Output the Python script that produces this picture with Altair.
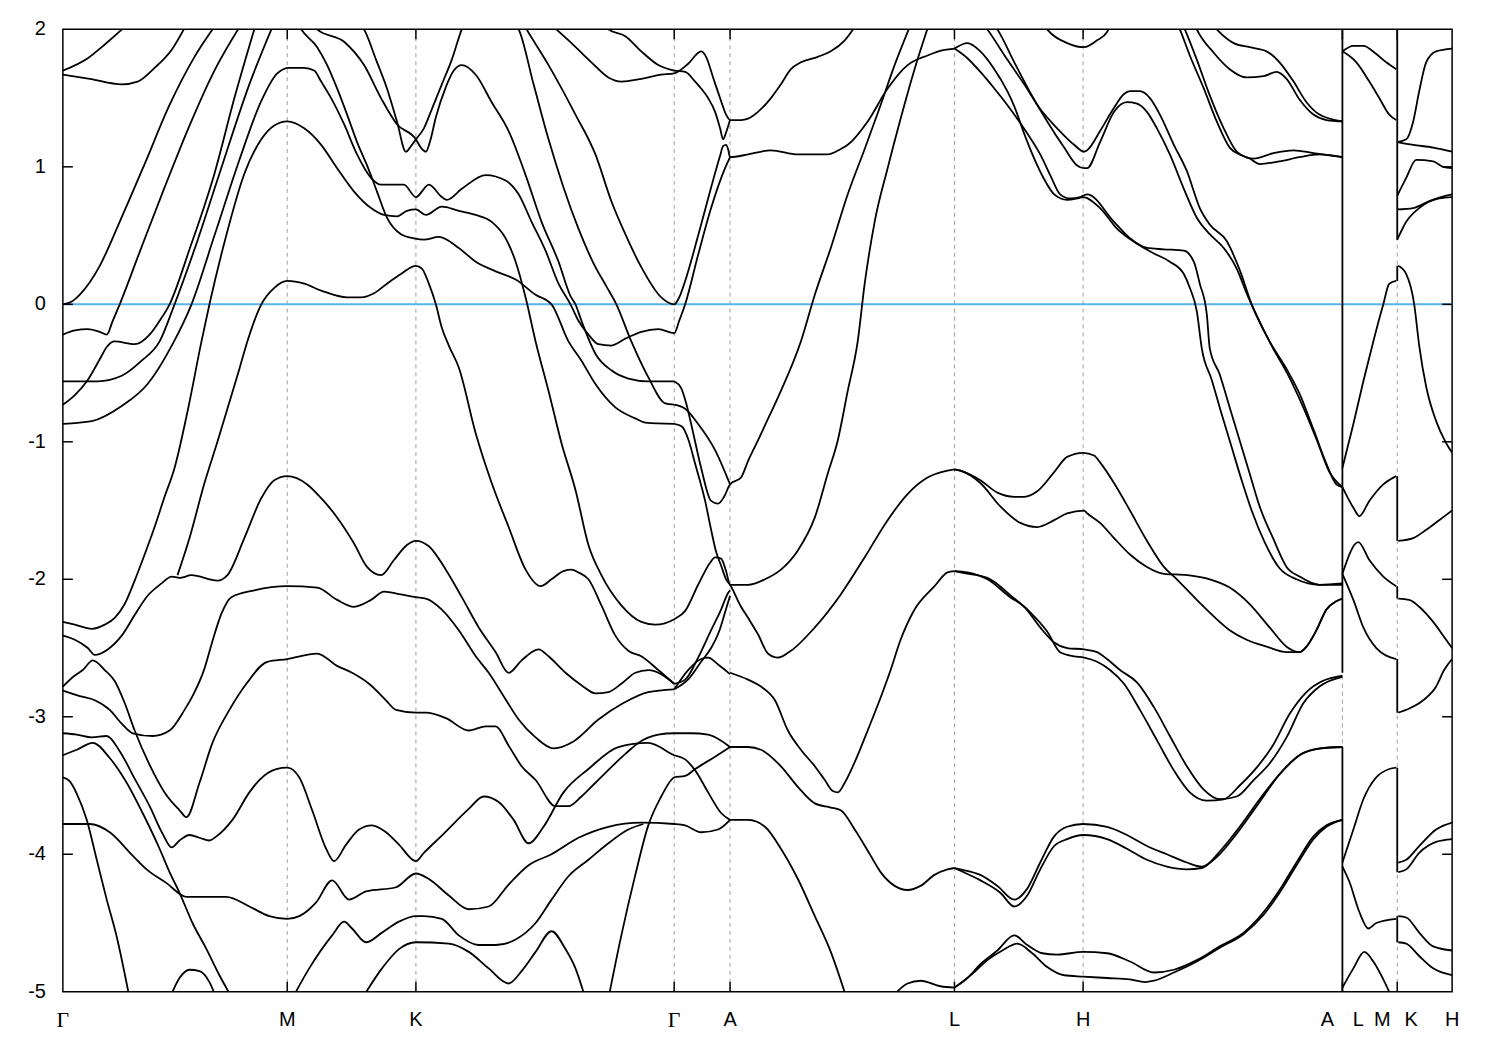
import altair as alt
import pandas as pd

# ---------------------------------------------------------------
# k-path coordinate (arbitrary path-length units, Gamma = 0) and
# band energies E (eV). Each list is one traced band piece: (k, E)
# ---------------------------------------------------------------
W, H = 1393, 965

GRID_K = [225, 354, 613, 669, 894, 1023, 1283, 1338]
LABEL_K = [225, 354, 669, 894, 1023, 1268, 1299, 1323, 1352, 1393]
LABEL_TEXT = ["M", "K", "A", "L", "H", "A", "L", "M", "K", "H"]
GAMMA_K = [0, 613]
Y_TICKS = [-5, -4, -3, -2, -1, 0, 1, 2]
Y_LABELS = ["-5", "-4", "-3", "-2", "-1", "0", "1", "2"]

# vertical jumps at the path discontinuities A|L and M|K
JUMP_K = [1283, 1283, 1338, 1338, 1338, 1338, 1338, 1338, 1338]
JUMP_LO = [-2.68, -5.1, 0.47, 0.17, -1.72, -2.14, -2.97, -4.13, -4.64]
JUMP_HI = [2.1, -3.22, 2.1, 0.28, -1.25, -2.05, -2.58, -3.37, -4.45]

# ---- Gamma-M-K-Gamma-A, upper part ----
p01 = [(0, 1.70), (25, 1.79), (42, 1.89), (67, 2.05)]
p02 = [(0, 1.67), (27, 1.64), (59, 1.60), (75, 1.62), (92, 1.72), (109, 1.85), (125, 2.05)]
p03 = [(0, 0.0), (9, 0.02), (17, 0.07), (27, 0.16), (37, 0.28), (57, 0.60), (82, 1.02), (107, 1.45),
       (132, 1.80), (155, 2.05)]
p04 = [(0, -0.22), (12, -0.19), (25, -0.18), (37, -0.20), (44, -0.22), (50, -0.12), (57, 0.0), (77, 0.38),
       (102, 0.85), (127, 1.30), (152, 1.70), (180, 2.05)]
p05 = [(0, -0.73), (12, -0.66), (25, -0.55), (37, -0.40), (44, -0.31), (52, -0.27), (72, -0.29), (87, -0.22),
       (97, -0.12), (107, 0.0), (127, 0.40), (152, 0.95), (172, 1.50), (194, 2.05)]
p06 = [(0, -0.56), (17, -0.56), (35, -0.56), (59, -0.52), (79, -0.41), (97, -0.27), (112, 0.0), (132, 0.40),
       (157, 0.95), (187, 1.60), (212, 2.05)]
p07 = [(0, -0.87), (29, -0.85), (59, -0.74), (85, -0.58), (110, -0.29), (129, 0.0), (152, 0.50), (177, 1.05),
       (199, 1.48), (215, 1.68), (227, 1.72), (242, 1.72), (252, 1.70), (259, 1.62), (269, 1.50), (282, 1.31),
       (295, 1.09), (309, 0.92), (319, 0.87), (332, 0.87), (342, 0.87), (354, 0.78), (367, 0.87), (380, 0.78),
       (385, 0.76), (400, 0.84), (424, 0.94), (444, 0.90), (457, 0.80), (470, 0.60), (484, 0.39), (497, 0.15),
       (509, 0.0), (517, -0.12), (527, -0.22), (537, -0.29), (550, -0.30), (564, -0.25), (580, -0.20),
       (597, -0.18), (613, -0.21), (618, -0.12), (624, 0.0), (637, 0.36), (650, 0.70), (664, 0.99), (669, 1.07)]
p08 = [(0, -2.31), (12, -2.33), (29, -2.36), (42, -2.33), (52, -2.28), (62, -2.18), (72, -2.01), (82, -1.82),
       (92, -1.62), (102, -1.40), (112, -1.19), (125, -0.78), (139, -0.27), (147, 0.0), (162, 0.45), (182, 0.95),
       (199, 1.20), (212, 1.30), (225, 1.33), (242, 1.28), (259, 1.16), (275, 0.99), (292, 0.82), (309, 0.70),
       (322, 0.65), (335, 0.64), (345, 0.68), (354, 0.69), (364, 0.65), (380, 0.71), (397, 0.68), (414, 0.65),
       (430, 0.60), (444, 0.48), (454, 0.31), (464, 0.05), (474, -0.27), (487, -0.63), (500, -1.01),
       (514, -1.35), (527, -1.75), (540, -1.97), (560, -2.19), (580, -2.31), (594, -2.33), (613, -2.29),
       (624, -2.23), (637, -2.04), (649, -1.88), (654, -1.84), (660, -1.85), (665, -1.94), (669, -2.04),
       (687, -2.04), (704, -2.0), (720, -1.93), (737, -1.79), (754, -1.55), (767, -1.23), (777, -0.99),
       (787, -0.63), (797, -0.27), (804, 0.15), (814, 0.60), (827, 0.99), (840, 1.35), (854, 1.71), (869, 2.05)]
p09 = [(115, -1.97), (127, -1.70), (142, -1.30), (155, -1.00), (165, -0.76), (177, -0.47), (185, -0.27),
       (199, 0.0), (212, 0.12), (225, 0.17), (242, 0.15), (259, 0.10), (285, 0.05), (299, 0.05), (312, 0.08),
       (325, 0.15), (339, 0.22), (354, 0.28), (360, 0.26), (367, 0.15), (374, 0.0), (380, -0.17), (387, -0.30),
       (397, -0.46), (414, -0.94), (430, -1.30), (447, -1.62), (464, -1.93), (479, -2.05), (490, -2.0),
       (502, -1.94), (510, -1.93), (517, -1.95), (527, -2.0), (540, -2.19), (554, -2.41), (567, -2.52),
       (580, -2.56), (597, -2.66), (613, -2.76)]
p10 = [(235, 2.05), (239, 2.0), (255, 1.87), (265, 1.74), (275, 1.57), (285, 1.38), (295, 1.18), (305, 1.01),
       (315, 0.82), (325, 0.63), (339, 0.51), (352, 0.48), (362, 0.47), (377, 0.49), (397, 0.41), (414, 0.31),
       (434, 0.24), (454, 0.18), (474, 0.07), (490, 0.0), (507, -0.27), (520, -0.41), (534, -0.58),
       (554, -0.75), (574, -0.83), (584, -0.86), (613, -0.87)]
p11 = [(613, -0.56), (620, -0.61), (625, -0.72), (630, -0.87), (640, -1.19), (650, -1.43), (657, -1.45),
       (663, -1.40), (669, -1.31), (680, -1.26), (687, -1.14), (697, -0.99), (704, -0.88), (720, -0.63),
       (740, -0.27), (754, 0.07), (770, 0.41), (787, 0.80), (804, 1.13), (820, 1.45), (834, 1.74), (851, 2.05)]
p12 = [(613, -0.73), (624, -0.76), (637, -0.87), (654, -1.06), (669, -1.31)]
p13 = [(613, -0.87), (621, -0.89), (627, -0.98), (634, -1.16), (644, -1.43), (650, -1.64), (655, -1.80),
       (660, -1.90), (665, -2.0), (669, -2.04), (680, -2.20), (687, -2.28), (697, -2.40), (707, -2.54),
       (717, -2.57), (730, -2.52), (754, -2.35), (780, -2.11), (804, -1.84), (827, -1.57), (847, -1.38),
       (867, -1.26), (887, -1.21), (894, -1.20)]
p14 = [(297, 2.05), (302, 2.0), (314, 1.78), (325, 1.57), (335, 1.33), (344, 1.11), (349, 1.15), (354, 1.20),
       (362, 1.28), (370, 1.42), (380, 1.60), (390, 1.78), (400, 2.0), (403, 2.05)]
p15 = [(251, 2.05), (255, 2.0), (282, 1.91), (302, 1.74), (319, 1.50), (335, 1.31), (354, 1.20), (359, 1.14),
       (364, 1.11), (368, 1.18), (374, 1.36), (384, 1.58), (392, 1.70), (400, 1.74), (414, 1.67), (430, 1.47),
       (447, 1.26), (464, 0.94), (480, 0.60), (497, 0.31), (509, 0.06), (514, 0.0), (520, -0.12), (527, -0.25),
       (534, -0.36), (550, -0.48), (567, -0.54), (587, -0.56), (613, -0.56)]
p16 = [(452, 2.05), (457, 2.0), (472, 1.6), (487, 1.2), (502, 0.85), (517, 0.55), (532, 0.30), (545, 0.13),
       (555, 0.0), (570, -0.27), (587, -0.53), (604, -0.72), (613, -0.73)]
p17 = [(461, 2.05), (465, 2.0), (487, 1.74), (514, 1.38), (534, 1.09), (550, 0.75), (564, 0.51), (580, 0.27),
       (600, 0.05), (613, 0.0), (618, 0.05), (624, 0.17), (637, 0.50), (650, 0.85), (659, 1.08), (662, 1.15),
       (665, 1.16), (667, 1.13), (669, 1.07), (687, 1.09), (710, 1.12), (737, 1.09), (767, 1.09), (780, 1.13),
       (787, 1.16), (807, 1.33), (827, 1.57), (847, 1.74), (867, 1.81), (884, 1.85), (894, 1.86)]
p18 = [(487, 2.05), (510, 1.90), (530, 1.76), (547, 1.65), (560, 1.62), (580, 1.64), (600, 1.67), (613, 1.68),
       (627, 1.75), (640, 1.84), (645, 1.80), (652, 1.65), (659, 1.50), (665, 1.38), (669, 1.34), (680, 1.34),
       (687, 1.35), (697, 1.40), (710, 1.50), (720, 1.60), (730, 1.71), (740, 1.76), (757, 1.80), (770, 1.84),
       (784, 1.92), (797, 2.05)]
p19 = [(544, 2.05), (547, 2.0), (564, 1.95), (580, 1.84), (597, 1.74), (613, 1.70), (624, 1.69), (634, 1.62),
       (640, 1.57), (647, 1.50), (654, 1.40), (659, 1.28), (662, 1.20), (665, 1.25), (669, 1.34)]

# ---- L-H-A, upper part ----
p20 = [(894, 1.86), (907, 1.79), (920, 1.69), (934, 1.57), (947, 1.45), (957, 1.35), (970, 1.21), (980, 1.09),
       (990, 0.94), (1000, 0.80), (1010, 0.77), (1020, 0.78), (1023, 0.79), (1027, 0.80), (1054, 0.60),
       (1070, 0.48), (1087, 0.41), (1104, 0.40), (1124, 0.39), (1134, 0.31), (1140, 0.15), (1147, -0.07),
       (1150, -0.32), (1160, -0.51), (1170, -0.75), (1180, -0.99), (1190, -1.23), (1200, -1.47),
       (1214, -1.71), (1227, -1.91), (1240, -1.98), (1260, -2.04), (1283, -2.03)]
p21 = [(894, 1.86), (907, 1.90), (920, 1.84), (934, 1.71), (947, 1.55), (954, 1.44), (964, 1.24), (974, 1.06),
       (984, 0.91), (994, 0.80), (1007, 0.76), (1017, 0.77), (1023, 0.78), (1040, 0.70), (1057, 0.55),
       (1077, 0.44), (1094, 0.37), (1110, 0.31), (1124, 0.22), (1130, 0.12), (1137, -0.05), (1142, -0.32),
       (1152, -0.55), (1162, -0.80), (1172, -1.04), (1182, -1.28), (1192, -1.50), (1205, -1.73),
       (1220, -1.92), (1237, -2.0), (1260, -2.04), (1283, -2.04)]
p22 = [(922, 2.05), (927, 2.0), (947, 1.78), (964, 1.60), (980, 1.42), (997, 1.28), (1014, 1.16), (1024, 1.11),
       (1027, 1.12), (1040, 1.26), (1054, 1.43), (1064, 1.53), (1070, 1.55), (1080, 1.55), (1090, 1.50),
       (1100, 1.38), (1114, 1.16), (1127, 0.97), (1140, 0.70), (1150, 0.58), (1167, 0.46), (1180, 0.25),
       (1192, 0.0), (1210, -0.27), (1227, -0.47), (1240, -0.65), (1254, -0.91), (1267, -1.16), (1277, -1.31),
       (1283, -1.33)]
p23 = [(932, 2.05), (937, 2.0), (954, 1.76), (970, 1.54), (987, 1.33), (1004, 1.14), (1017, 1.01), (1024, 0.99),
       (1027, 0.99), (1040, 1.18), (1054, 1.40), (1067, 1.47), (1077, 1.46), (1087, 1.40), (1097, 1.28),
       (1110, 1.09), (1124, 0.84), (1137, 0.63), (1150, 0.51), (1164, 0.41), (1177, 0.26), (1187, 0.08),
       (1195, -0.05), (1212, -0.30), (1229, -0.52), (1242, -0.72), (1257, -0.98), (1270, -1.22), (1283, -1.33)]
p24 = [(982, 2.05), (987, 2.0), (1007, 1.90), (1024, 1.87), (1037, 1.92), (1047, 1.98), (1051, 2.05)]
p25 = [(1117, 2.05), (1120, 2.0), (1130, 1.81), (1144, 1.57), (1157, 1.33), (1170, 1.14), (1180, 1.09),
       (1194, 1.06), (1214, 1.10), (1234, 1.12), (1254, 1.10), (1283, 1.07)]
p26 = [(1122, 2.05), (1125, 2.0), (1137, 1.78), (1150, 1.52), (1164, 1.28), (1177, 1.11), (1190, 1.06),
       (1200, 1.02), (1220, 1.04), (1240, 1.07), (1260, 1.09), (1283, 1.07)]
p27 = [(1134, 2.05), (1137, 2.0), (1154, 1.83), (1170, 1.71), (1187, 1.65), (1204, 1.66), (1217, 1.69),
       (1227, 1.64), (1240, 1.49), (1254, 1.38), (1267, 1.34), (1283, 1.33)]
p28 = [(1151, 2.05), (1157, 2.0), (1174, 1.90), (1190, 1.87), (1207, 1.84), (1220, 1.76), (1234, 1.62),
       (1247, 1.47), (1260, 1.38), (1283, 1.33)]

# ---- L-M and K-H short segments ----
p29 = [(1283, 1.84), (1294, 1.88), (1304, 1.88), (1317, 1.82), (1327, 1.76), (1337, 1.71)]
p30 = [(1283, 1.84), (1297, 1.76), (1310, 1.62), (1320, 1.50), (1330, 1.38), (1337, 1.34)]
p31 = [(1283, -1.19), (1294, -0.87), (1304, -0.56), (1314, -0.27), (1324, 0.0), (1330, 0.15), (1337, 0.17)]
p32 = [(1283, -1.33), (1294, -1.48), (1300, -1.54), (1310, -1.43), (1324, -1.31), (1337, -1.25)]
p33 = [(1283, -1.96), (1299, -1.73), (1310, -1.86), (1324, -1.98), (1337, -2.05)]
p34 = [(1283, -1.96), (1294, -2.15), (1304, -2.35), (1317, -2.50), (1337, -2.58)]
p35 = [(1283, -4.06), (1294, -3.82), (1304, -3.60), (1317, -3.44), (1330, -3.38), (1337, -3.37)]
p36 = [(1283, -4.09), (1290, -4.20), (1300, -4.42), (1309, -4.54), (1317, -4.50), (1337, -4.47)]
p37 = [(1283, -4.97), (1294, -4.83), (1305, -4.71), (1314, -4.78), (1324, -4.91), (1333, -5.05)]
p38 = [(1338, 1.18), (1347, 1.20), (1354, 1.33), (1360, 1.55), (1367, 1.76), (1377, 1.84), (1393, 1.86)]
p39 = [(1338, 1.18), (1354, 1.16), (1374, 1.14), (1393, 1.11)]
p40 = [(1338, 0.79), (1347, 0.92), (1357, 1.05), (1374, 1.04), (1384, 1.00), (1393, 0.99)]
p41 = [(1338, 0.69), (1354, 0.70), (1370, 0.75), (1387, 0.79), (1393, 0.80)]
p42 = [(1338, 0.47), (1347, 0.60), (1360, 0.70), (1380, 0.77), (1393, 0.78)]
p43 = [(1339, 0.28), (1347, 0.22), (1355, 0.0), (1360, -0.30), (1367, -0.60), (1377, -0.85), (1387, -1.01),
       (1393, -1.08)]
p44 = [(1339, -1.72), (1354, -1.70), (1367, -1.64), (1380, -1.57), (1393, -1.50)]
p45 = [(1339, -2.14), (1350, -2.15), (1360, -2.20), (1374, -2.31), (1387, -2.44), (1393, -2.50)]
p46 = [(1339, -2.97), (1350, -2.94), (1364, -2.88), (1377, -2.78), (1385, -2.66), (1393, -2.58)]
p47 = [(1339, -4.06), (1347, -4.04), (1360, -3.94), (1377, -3.82), (1393, -3.77)]
p48 = [(1339, -4.13), (1347, -4.11), (1360, -3.99), (1377, -3.91), (1393, -3.89)]
p49 = [(1339, -4.45), (1347, -4.46), (1360, -4.57), (1374, -4.67), (1393, -4.70)]
p50 = [(1339, -4.64), (1347, -4.65), (1360, -4.74), (1374, -4.83), (1393, -4.88)]

# ---- L-H-A, lower part ----
p51 = [(894, -1.20), (900, -1.21), (920, -1.28), (937, -1.37), (954, -1.40), (964, -1.40), (977, -1.36),
       (994, -1.22), (1007, -1.11), (1023, -1.08), (1034, -1.10), (1040, -1.15), (1054, -1.30), (1070, -1.50),
       (1087, -1.72), (1104, -1.91), (1117, -2.00), (1137, -2.15), (1154, -2.27), (1170, -2.37), (1187, -2.44),
       (1207, -2.49), (1227, -2.53), (1240, -2.53), (1247, -2.49), (1257, -2.37), (1267, -2.22), (1277, -2.16),
       (1283, -2.14)]
p52 = [(894, -1.20), (900, -1.21), (920, -1.30), (940, -1.47), (960, -1.59), (977, -1.62), (994, -1.57),
       (1007, -1.52), (1024, -1.50), (1027, -1.52), (1040, -1.59), (1054, -1.70), (1070, -1.82), (1087, -1.91),
       (1104, -1.96), (1127, -1.97), (1150, -2.0), (1170, -2.06), (1190, -2.18), (1210, -2.35), (1227, -2.49),
       (1240, -2.53), (1247, -2.49), (1257, -2.37), (1267, -2.22), (1277, -2.16), (1283, -2.14)]
p53 = [(894, -1.94), (907, -1.95), (927, -2.0), (950, -2.13), (964, -2.20), (980, -2.35), (994, -2.46),
       (1007, -2.50), (1024, -2.51), (1037, -2.53), (1047, -2.58), (1060, -2.66), (1077, -2.75), (1094, -2.93),
       (1110, -3.14), (1127, -3.36), (1144, -3.53), (1160, -3.60), (1177, -3.58), (1194, -3.46), (1210, -3.34),
       (1227, -3.15), (1244, -2.90), (1260, -2.78), (1283, -2.71)]
p54 = [(894, -1.94), (900, -1.95), (927, -1.99), (954, -2.14), (970, -2.24), (987, -2.38), (1000, -2.53),
       (1014, -2.56), (1024, -2.57), (1037, -2.60), (1050, -2.66), (1064, -2.76), (1080, -2.95), (1097, -3.17),
       (1114, -3.39), (1130, -3.55), (1147, -3.61), (1164, -3.60), (1180, -3.50), (1197, -3.37), (1214, -3.20),
       (1230, -2.98), (1247, -2.82), (1263, -2.74), (1283, -2.70)]
p55 = [(894, -4.10), (900, -4.11), (920, -4.15), (937, -4.23), (954, -4.33), (967, -4.25), (980, -4.06),
       (994, -3.87), (1007, -3.80), (1023, -3.78), (1047, -3.80), (1067, -3.86), (1087, -3.94), (1107, -4.00),
       (1127, -4.06), (1142, -4.09), (1157, -4.02), (1177, -3.85), (1197, -3.65), (1220, -3.42), (1240, -3.28),
       (1260, -3.23), (1283, -3.22)]
p56 = [(894, -4.10), (900, -4.12), (920, -4.19), (940, -4.28), (954, -4.38), (967, -4.30), (980, -4.11),
       (994, -3.94), (1007, -3.89), (1023, -3.86), (1047, -3.89), (1067, -3.96), (1087, -4.04), (1107, -4.09),
       (1127, -4.11), (1142, -4.10), (1160, -3.98), (1180, -3.80), (1200, -3.60), (1222, -3.40), (1242, -3.27),
       (1262, -3.23), (1283, -3.22)]
p57 = [(894, -4.97), (907, -4.90), (920, -4.80), (937, -4.70), (954, -4.59), (967, -4.66), (982, -4.72),
       (997, -4.73), (1023, -4.71), (1047, -4.72), (1070, -4.78), (1094, -4.86), (1114, -4.84), (1137, -4.77),
       (1160, -4.67), (1184, -4.57), (1204, -4.42), (1220, -4.26), (1237, -4.06), (1254, -3.87), (1267, -3.79),
       (1283, -3.75)]
p58 = [(894, -4.97), (912, -4.87), (927, -4.77), (942, -4.70), (957, -4.65), (972, -4.72), (987, -4.82),
       (1004, -4.88), (1023, -4.89), (1047, -4.90), (1070, -4.91), (1085, -4.93), (1094, -4.92), (1114, -4.86),
       (1137, -4.78), (1160, -4.68), (1184, -4.58), (1204, -4.44), (1220, -4.28), (1237, -4.08), (1254, -3.89),
       (1267, -3.80), (1283, -3.75)]
p59 = [(669, -2.68), (687, -2.73), (700, -2.78), (714, -2.88), (727, -3.10), (740, -3.24), (754, -3.36),
       (764, -3.46), (772, -3.54), (777, -3.55), (784, -3.48), (794, -3.33), (807, -3.10), (820, -2.86),
       (830, -2.66), (840, -2.44), (854, -2.22), (874, -2.05), (887, -1.95), (894, -1.94)]
p60 = [(669, -3.22), (687, -3.22), (700, -3.24), (720, -3.36), (737, -3.51), (754, -3.63), (770, -3.66),
       (780, -3.68), (794, -3.82), (810, -4.01), (820, -4.13), (834, -4.23), (847, -4.26), (860, -4.23),
       (874, -4.15), (887, -4.11), (894, -4.10)]
p61 = [(669, -3.75), (687, -3.75), (704, -3.80), (720, -3.96), (737, -4.18), (754, -4.45), (770, -4.71),
       (786, -5.05)]
p62 = [(830, -5.05), (847, -4.94), (860, -4.92), (880, -4.96), (894, -4.97)]

# ---- Gamma-M-K-Gamma-A, lower part ----
p63 = [(547, -5.05), (560, -4.59), (574, -4.15), (587, -3.79), (600, -3.58), (610, -3.46), (613, -3.44),
       (624, -3.43), (634, -3.38), (654, -3.29), (669, -3.22)]
p64 = [(613, -2.76), (624, -2.73), (637, -2.57), (650, -2.37), (660, -2.22), (667, -2.10), (669, -2.08)]
p65 = [(613, -2.80), (628, -2.72), (640, -2.60), (650, -2.50), (658, -2.38), (664, -2.24), (669, -2.12)]
p66 = [(613, -2.80), (627, -2.66), (640, -2.58), (647, -2.57), (657, -2.62), (669, -2.69)]
g01 = [(0, -2.41), (12, -2.44), (25, -2.50), (32, -2.55), (45, -2.51), (59, -2.41), (72, -2.26), (85, -2.12),
       (99, -2.03), (109, -1.98), (117, -1.99), (129, -1.97), (155, -2.01), (165, -1.97), (182, -1.70),
       (199, -1.41), (212, -1.28), (225, -1.25), (245, -1.31), (259, -1.41), (275, -1.55), (292, -1.74),
       (305, -1.91), (319, -1.97), (332, -1.86), (345, -1.75), (354, -1.72), (367, -1.76), (384, -1.93),
       (400, -2.13), (417, -2.35), (434, -2.53), (447, -2.68), (460, -2.59), (477, -2.51), (487, -2.56),
       (504, -2.68), (520, -2.77), (534, -2.83), (547, -2.82), (560, -2.76), (574, -2.68), (587, -2.66),
       (613, -2.76)]
g02 = [(0, -2.78), (12, -2.70), (20, -2.66), (30, -2.59), (42, -2.66), (52, -2.74), (62, -2.90), (72, -3.10),
       (87, -3.35), (102, -3.55), (117, -3.68), (124, -3.73), (137, -3.48), (150, -3.19), (167, -2.95),
       (184, -2.76), (205, -2.60), (225, -2.58), (255, -2.54), (275, -2.63), (290, -2.68), (307, -2.76),
       (324, -2.88), (334, -2.95), (354, -2.97), (364, -2.97), (384, -3.01), (407, -3.10), (424, -3.07),
       (434, -3.07), (447, -3.21), (460, -3.36), (474, -3.46), (494, -3.65), (507, -3.65), (520, -3.58),
       (534, -3.48), (564, -3.27), (577, -3.19), (597, -3.13), (613, -3.12), (630, -3.12), (647, -3.13),
       (669, -3.22)]
g03 = [(0, -2.81), (17, -2.85), (32, -2.88), (47, -2.95), (59, -3.05), (70, -3.12), (90, -3.14), (107, -3.10),
       (122, -2.95), (130, -2.85), (142, -2.65), (150, -2.45), (159, -2.25), (169, -2.13), (192, -2.08),
       (225, -2.05), (255, -2.06), (275, -2.15), (292, -2.20), (309, -2.15), (322, -2.09), (339, -2.11),
       (354, -2.13), (364, -2.14), (380, -2.22), (397, -2.37), (414, -2.56), (427, -2.68), (442, -2.85),
       (457, -3.02), (474, -3.15), (492, -3.23), (512, -3.18), (537, -3.02), (562, -2.90), (587, -2.82),
       (613, -2.80)]
g04 = [(0, -3.12), (14, -3.13), (29, -3.15), (44, -3.14), (57, -3.25), (72, -3.45), (87, -3.65), (100, -3.85),
       (109, -3.95), (117, -3.90), (127, -3.86), (137, -3.88), (147, -3.90), (154, -3.87), (170, -3.75),
       (187, -3.55), (197, -3.46), (214, -3.38), (225, -3.37), (237, -3.44), (250, -3.68), (264, -3.96),
       (272, -4.05), (284, -3.93), (297, -3.82), (310, -3.79), (324, -3.84), (337, -3.93), (354, -4.05),
       (362, -3.99), (382, -3.85), (407, -3.67), (422, -3.58), (437, -3.62), (452, -3.75), (467, -3.92),
       (482, -3.80), (502, -3.55), (527, -3.38), (557, -3.22), (587, -3.19), (613, -3.28), (624, -3.31),
       (634, -3.39), (647, -3.55), (660, -3.70), (669, -3.75)]
g05 = [(0, -3.28), (14, -3.24), (30, -3.19), (47, -3.30), (64, -3.48), (80, -3.70), (97, -3.96), (107, -4.13),
       (117, -4.28), (130, -4.50), (144, -4.69), (157, -4.88), (170, -5.05)]
g06 = [(0, -3.44), (7, -3.47), (14, -3.56), (24, -3.75), (34, -4.04), (44, -4.33), (54, -4.60), (67, -5.05)]
g07 = [(0, -3.78), (27, -3.78), (47, -3.84), (70, -4.01), (84, -4.11), (104, -4.21), (124, -4.31), (164, -4.31),
       (187, -4.38), (207, -4.45), (225, -4.47), (237, -4.45), (254, -4.35), (270, -4.19), (287, -4.33),
       (304, -4.27), (334, -4.24), (354, -4.14), (367, -4.18), (387, -4.30), (407, -4.40), (427, -4.38),
       (447, -4.22), (467, -4.08), (490, -4.0), (517, -3.88), (547, -3.80), (580, -3.77), (613, -3.78),
       (624, -3.79), (640, -3.84), (657, -3.82), (669, -3.75)]
g08 = [(107, -5.05), (117, -4.90), (127, -4.84), (137, -4.85), (147, -4.93), (154, -5.05)]
g09 = [(230, -5.05), (247, -4.83), (270, -4.59), (282, -4.49), (290, -4.54), (304, -4.64), (320, -4.57),
       (337, -4.49), (354, -4.45), (362, -4.45), (380, -4.47), (397, -4.59), (417, -4.66), (434, -4.66),
       (454, -4.62), (474, -4.50), (490, -4.33), (507, -4.16), (527, -4.04), (547, -3.92), (567, -3.82),
       (582, -3.78)]
g10 = [(300, -5.05), (320, -4.83), (337, -4.69), (354, -4.64), (387, -4.65), (407, -4.71), (427, -4.83),
       (447, -4.94), (460, -4.85), (474, -4.71), (490, -4.56), (504, -4.69), (514, -4.83), (524, -5.05)]

BANDS = {
    "p01": p01, "p02": p02, "p03": p03, "p04": p04, "p05": p05, "p06": p06, "p07": p07, "p08": p08,
    "p09": p09, "p10": p10, "p11": p11, "p12": p12, "p13": p13, "p14": p14, "p15": p15, "p16": p16,
    "p17": p17, "p18": p18, "p19": p19, "p20": p20, "p21": p21, "p22": p22, "p23": p23, "p24": p24,
    "p25": p25, "p26": p26, "p27": p27, "p28": p28, "p29": p29, "p30": p30, "p31": p31, "p32": p32,
    "p33": p33, "p34": p34, "p35": p35, "p36": p36, "p37": p37, "p38": p38, "p39": p39, "p40": p40,
    "p41": p41, "p42": p42, "p43": p43, "p44": p44, "p45": p45, "p46": p46, "p47": p47, "p48": p48,
    "p49": p49, "p50": p50, "p51": p51, "p52": p52, "p53": p53, "p54": p54, "p55": p55, "p56": p56,
    "p57": p57, "p58": p58, "p59": p59, "p60": p60, "p61": p61, "p62": p62, "p63": p63, "p64": p64,
    "p65": p65, "p66": p66, "g01": g01, "g02": g02, "g03": g03, "g04": g04, "g05": g05, "g06": g06,
    "g07": g07, "g08": g08, "g09": g09, "g10": g10,
}

rows = []
for name, pts in BANDS.items():
    for i, (k, e) in enumerate(pts):
        rows.append({"band": name, "i": i, "k": k, "E": e})
bands_df = pd.DataFrame(rows)

xs = alt.Scale(domain=[0, 1393], nice=False, zero=False)
ys = alt.Scale(domain=[-5, 2], nice=False, zero=False)

grid = alt.Chart(pd.DataFrame({"k": GRID_K})).mark_rule(
    color="#a0a0a0", strokeWidth=1, strokeDash=[4, 4]
).encode(x=alt.X("k:Q", scale=xs, axis=None))

zero = alt.Chart(pd.DataFrame({"k": [0], "k2": [1393], "E": [0.0]})).mark_rule(
    color="#56B4E9", strokeWidth=2
).encode(
    x=alt.X("k:Q", scale=xs, axis=None), x2="k2:Q",
    y=alt.Y("E:Q", scale=ys, axis=None),
)

lines = alt.Chart(bands_df).mark_line(
    color="black", strokeWidth=1.8, clip=True, interpolate="monotone"
).encode(
    x=alt.X("k:Q", scale=xs, axis=None),
    y=alt.Y("E:Q", scale=ys, axis=None),
    detail="band:N",
    order="i:Q",
)

jumps = alt.Chart(pd.DataFrame({"k": JUMP_K, "lo": JUMP_LO, "hi": JUMP_HI})).mark_rule(
    color="black", strokeWidth=1.8, clip=True
).encode(
    x=alt.X("k:Q", scale=xs, axis=None),
    y=alt.Y("lo:Q", scale=ys, axis=None), y2="hi:Q",
)

tick_df = pd.DataFrame({"k": GRID_K})
xticks_bottom = alt.Chart(tick_df).mark_rule(color="black", strokeWidth=1.5).encode(
    x=alt.X("k:Q", scale=xs, axis=None), y=alt.value(H), y2=alt.value(H - 10))
xticks_top = alt.Chart(tick_df).mark_rule(color="black", strokeWidth=1.5).encode(
    x=alt.X("k:Q", scale=xs, axis=None), y=alt.value(0), y2=alt.value(10))

ytick_df = pd.DataFrame({"E": Y_TICKS[1:-1]})
yticks_left = alt.Chart(ytick_df).mark_rule(color="black", strokeWidth=1.5).encode(
    y=alt.Y("E:Q", scale=ys, axis=None), x=alt.value(0), x2=alt.value(10))
yticks_right = alt.Chart(ytick_df).mark_rule(color="black", strokeWidth=1.5).encode(
    y=alt.Y("E:Q", scale=ys, axis=None), x=alt.value(W), x2=alt.value(W - 10))

ylabels = alt.Chart(pd.DataFrame({"E": Y_TICKS, "t": Y_LABELS})).mark_text(
    fontSize=20, font="Liberation Sans", color="black", baseline="middle", align="right"
).encode(y=alt.Y("E:Q", scale=ys, axis=None), x=alt.value(-17), text="t:N")

labels = alt.Chart(pd.DataFrame({"k": LABEL_K, "t": LABEL_TEXT})).mark_text(
    fontSize=20, font="Liberation Sans", color="black", baseline="middle", align="center"
).encode(x=alt.X("k:Q", scale=xs, axis=None), y=alt.value(H + 28), text="t:N")

gammas = alt.Chart(pd.DataFrame({"k": GAMMA_K, "t": ["Γ", "Γ"]})).mark_text(
    fontSize=22, font="Liberation Serif", color="black", baseline="middle", align="center"
).encode(x=alt.X("k:Q", scale=xs, axis=None), y=alt.value(H + 28), text="t:N")

chart = alt.layer(
    grid, zero, lines, jumps, xticks_bottom, xticks_top, yticks_left, yticks_right,
    ylabels, labels, gammas
).properties(
    width=W, height=H,
    autosize=alt.AutoSizeParams(type="none"),
    padding={"left": 55, "top": 20, "right": 40, "bottom": 50},
    background="white",
).configure_view(
    stroke="black", strokeWidth=1.5
)

chart.save("out.html", embed_options={"renderer": "svg", "actions": False})
